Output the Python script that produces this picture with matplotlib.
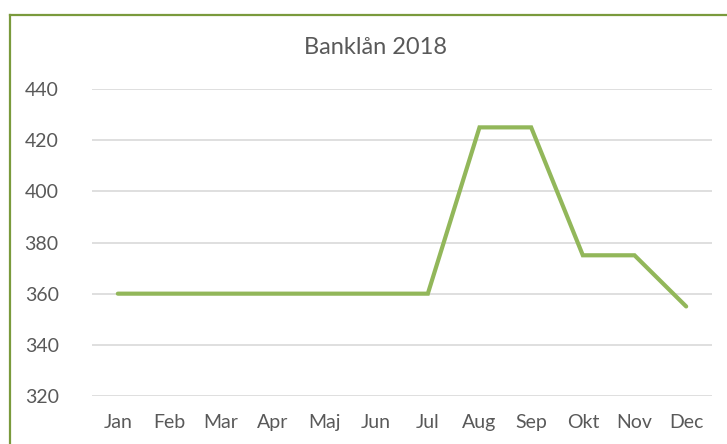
import matplotlib
matplotlib.use("Agg")
import matplotlib.pyplot as plt
from matplotlib.lines import Line2D

months = ['Jan', 'Feb', 'Mar', 'Apr', 'Maj', 'Jun', 'Jul', 'Aug', 'Sep', 'Okt', 'Nov', 'Dec']
loans = [360, 360, 360, 360, 360, 360, 360, 425, 425, 375, 375, 355]
y_ticks = [320, 340, 360, 380, 400, 420, 440]

TEXT = '#595959'
GRID = '#d9d9d9'
LINE = '#92b75a'
BORDER = '#7a9a3c'

plt.rcParams['font.family'] = ['Lato', 'DejaVu Sans']

fig = plt.figure(figsize=(7.27, 4.44), dpi=100)
ax = fig.add_axes([92 / 727, 1 - 396 / 444, 620 / 727, 307 / 444])

x = list(range(len(months)))
ax.plot(x, loans, color=LINE, linewidth=3, solid_capstyle='round', solid_joinstyle='miter', zorder=3)

ax.set_xlim(-0.5, len(months) - 0.5)
ax.set_ylim(320, 440)
ax.set_yticks(y_ticks)
ax.set_xticks(x)
ax.set_xticklabels(months)
ax.yaxis.grid(True, color=GRID, linewidth=1.2)
ax.set_axisbelow(True)
for s in ax.spines.values():
    s.set_visible(False)
ax.tick_params(axis='both', length=0, colors=TEXT, labelsize=14)
ax.tick_params(axis='y', pad=24)
ax.tick_params(axis='x', pad=13)

fig.text(375 / 727, 1 - 47 / 444, 'Banklån 2018', ha='center', va='center', fontsize=17, color=TEXT)

# chart border (only left and top are visible in the crop)
fig.add_artist(Line2D([10 / 727, 10 / 727], [0, 1 - 15 / 444], transform=fig.transFigure, color=BORDER, linewidth=1.6))
fig.add_artist(Line2D([10 / 727, 1], [1 - 15 / 444, 1 - 15 / 444], transform=fig.transFigure, color=BORDER, linewidth=1.6))

fig.savefig('out.png', dpi=100)
